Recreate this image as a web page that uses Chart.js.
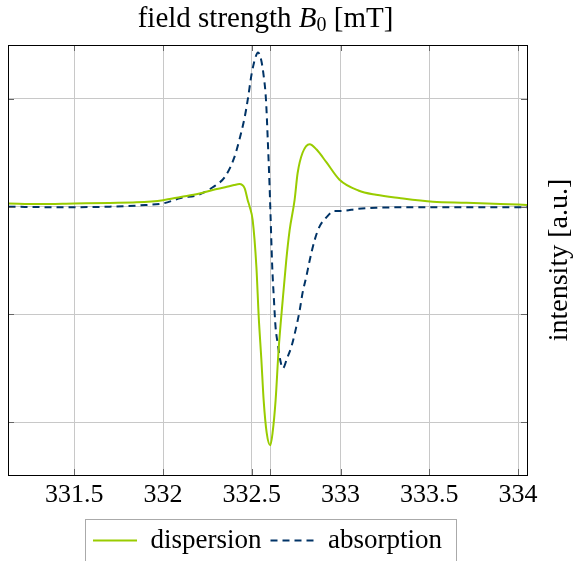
<!DOCTYPE html>
<html>
<head>
<meta charset="utf-8">
<script src="https://cdn.jsdelivr.net/npm/chart.js@4/dist/chart.umd.min.js"></script>
<style>
  html, body { margin: 0; padding: 0; background: #fff; }
  #wrap { width: 574px; height: 561px; }
</style>
</head>
<body>
<div id="wrap"><canvas id="esr"></canvas></div>
<script>
// field values (mT) and signal for each trace
const fieldDisp = [331.13, 331.3, 331.5, 331.7, 331.85, 332.0, 332.1, 332.2, 332.28, 332.35,
  332.4, 332.43, 332.46, 332.477, 332.488, 332.505, 332.526, 332.539, 332.554, 332.567,
  332.584, 332.604, 332.617, 332.634, 332.651, 332.674, 332.694, 332.713, 332.741, 332.758,
  332.786, 332.826, 332.865, 332.921, 332.994, 333.1, 333.2, 333.33, 333.52, 333.71, 333.9, 334.05];
const dispersion = [0.03, 0.025, 0.03, 0.035, 0.04, 0.06, 0.09, 0.12, 0.155, 0.18,
  0.2, 0.21, 0.17, 0.06, 0.0, -0.125, -0.56, -1.02, -1.42, -1.8,
  -2.1, -2.215, -2.1, -1.8, -1.33, -0.87, -0.5, -0.22, 0.06, 0.31,
  0.5, 0.58, 0.53, 0.41, 0.25, 0.15, 0.11, 0.08, 0.046, 0.037, 0.025, 0.016];

const fieldAbs = [331.13, 331.4, 331.7, 331.9, 332.0, 332.1, 332.2, 332.28, 332.35, 332.4,
  332.43, 332.46, 332.477, 332.5, 332.52, 332.535, 332.55, 332.565, 332.58, 332.59,
  332.6, 332.605, 332.615, 332.625, 332.634, 332.646, 332.66, 332.675, 332.7, 332.723,
  332.75, 332.77, 332.786, 332.807, 332.826, 332.854, 332.88, 332.92, 332.966, 333.0,
  333.1, 333.2, 333.5, 334.05];
const absorption = [0.0, -0.005, 0.0, 0.015, 0.03, 0.08, 0.11, 0.18, 0.28, 0.45,
  0.62, 0.83, 0.99, 1.24, 1.38, 1.43, 1.38, 1.24, 0.99, 0.62,
  0.2, -0.05, -0.55, -0.87, -1.12, -1.27, -1.42, -1.5, -1.4, -1.3,
  -1.12, -0.96, -0.8, -0.65, -0.5, -0.31, -0.19, -0.1, -0.04, -0.04,
  -0.02, -0.01, -0.005, -0.005];

const fieldTicks = [331.5, 332, 332.5, 333, 333.5, 334];
const resonanceField = 332.605;
const intensityGrid = [-2, -1, 0, 1];

const serif = '"Liberation Serif", "Times New Roman", serif';
const gridColor = '#c8c8c8';

// closed frame with short inward tick marks, drawn over the curves
const framePlugin = {
  id: 'frame',
  afterDatasetsDraw(chart) {
    const { ctx, chartArea: a, scales } = chart;
    ctx.save();
    ctx.strokeStyle = '#666';
    ctx.lineWidth = 1;
    ctx.beginPath();
    scales.x.ticks.forEach(t => {
      const px = Math.round(scales.x.getPixelForValue(t.value)) + 0.5;
      ctx.moveTo(px, a.top); ctx.lineTo(px, a.top + 6);
      ctx.moveTo(px, a.bottom); ctx.lineTo(px, a.bottom - 6);
    });
    scales.y.ticks.forEach(t => {
      const py = Math.round(scales.y.getPixelForValue(t.value)) + 0.5;
      ctx.moveTo(a.left, py); ctx.lineTo(a.left + 6, py);
      ctx.moveTo(a.right, py); ctx.lineTo(a.right - 6, py);
    });
    ctx.stroke();
    ctx.strokeStyle = '#000';
    ctx.strokeRect(Math.round(a.left) + 0.5, Math.round(a.top) + 0.5,
      Math.round(a.right - a.left), Math.round(a.bottom - a.top));
    ctx.restore();
  }
};

// axis labels: field label above the frame, intensity label on the right
const axisLabels = {
  id: 'axisLabels',
  afterDraw(chart) {
    const { ctx, chartArea: a } = chart;
    ctx.save();
    ctx.fillStyle = '#000';
    ctx.textBaseline = 'alphabetic';
    const parts = [
      { t: 'field strength ', f: '29px ' + serif, dy: 0 },
      { t: 'B', f: 'italic 29px ' + serif, dy: 0 },
      { t: '0', f: '20px ' + serif, dy: 4 },
      { t: ' [mT]', f: '29px ' + serif, dy: 0 }
    ];
    let w = 0;
    parts.forEach(p => { ctx.font = p.f; p.w = ctx.measureText(p.t).width; w += p.w; });
    let x = (a.left + a.right) / 2 - w / 2 - 2;
    parts.forEach(p => { ctx.font = p.f; ctx.fillText(p.t, x, 27 + p.dy); x += p.w; });

    ctx.translate(560, (a.top + a.bottom) / 2);
    ctx.rotate(-Math.PI / 2);
    ctx.textAlign = 'center';
    ctx.textBaseline = 'middle';
    ctx.font = '28px ' + serif;
    ctx.fillText('intensity [a.u.]', 0, 0);
    ctx.restore();
  }
};

// thin grey box around the legend entries
const legendBox = {
  id: 'legendBox',
  afterDraw(chart) {
    const boxes = chart.legend && chart.legend.legendHitBoxes;
    if (!boxes || !boxes.length) return;
    const left = Math.min(...boxes.map(b => b.left)) - 8;
    const right = Math.max(...boxes.map(b => b.left + b.width)) + 14;
    const top = Math.min(...boxes.map(b => b.top)) - 8;
    const ctx = chart.ctx;
    ctx.save();
    ctx.strokeStyle = '#aaa';
    ctx.lineWidth = 1;
    ctx.strokeRect(Math.round(left) + 0.5, Math.round(top) + 0.5, Math.round(right - left), 60);
    ctx.restore();
  }
};

const toPoints = (xs, ys) => xs.map((x, i) => ({ x: x, y: ys[i] }));

new Chart(document.getElementById('esr'), {
  type: 'scatter',
  data: {
    datasets: [
      {
        label: 'dispersion',
        data: toPoints(fieldDisp, dispersion),
        showLine: true,
        borderColor: '#99cc00',
        borderWidth: 2,
        pointRadius: 0,
        cubicInterpolationMode: 'monotone'
      },
      {
        label: 'absorption',
        data: toPoints(fieldAbs, absorption),
        showLine: true,
        borderColor: '#003366',
        borderWidth: 2,
        borderDash: [7, 5],
        pointRadius: 0,
        cubicInterpolationMode: 'monotone'
      }
    ]
  },
  options: {
    responsive: true,
    maintainAspectRatio: false,
    animation: false,
    layout: { padding: { top: 45, left: 8, right: 47, bottom: -3 } },
    scales: {
      x: {
        type: 'linear',
        min: 331.127,
        max: 334.05,
        afterBuildTicks: scale => {
          scale.ticks = fieldTicks.concat([resonanceField])
            .sort((p, q) => p - q)
            .map(v => ({ value: v }));
        },
        afterFit: scale => { scale.height = 43; },
        ticks: {
          autoSkip: false,
          maxRotation: 0,
          padding: 5,
          color: '#000',
          font: { family: serif, size: 26 },
          callback: v => (v === resonanceField ? '' : String(v))
        },
        grid: { color: gridColor, drawTicks: false },
        border: { display: false }
      },
      y: {
        position: 'right',
        min: -2.49,
        max: 1.5,
        afterBuildTicks: scale => {
          scale.ticks = intensityGrid.map(v => ({ value: v }));
        },
        ticks: { display: false },
        grid: { color: gridColor, drawTicks: false },
        border: { display: false }
      }
    },
    plugins: {
      tooltip: { enabled: false },
      legend: {
        position: 'bottom',
        labels: {
          usePointStyle: true,
          pointStyle: 'line',
          pointStyleWidth: 44,
          padding: 9,
          color: '#000',
          font: { family: serif, size: 27 },
          generateLabels: chart => chart.data.datasets.map((ds, i) => ({
            text: ds.label,
            strokeStyle: ds.borderColor,
            fillStyle: ds.borderColor,
            fontColor: '#000',
            lineWidth: 2,
            lineDash: ds.borderDash || [],
            pointStyle: 'line',
            datasetIndex: i
          }))
        }
      }
    }
  },
  plugins: [framePlugin, axisLabels, legendBox]
});
</script>
</body>
</html>
